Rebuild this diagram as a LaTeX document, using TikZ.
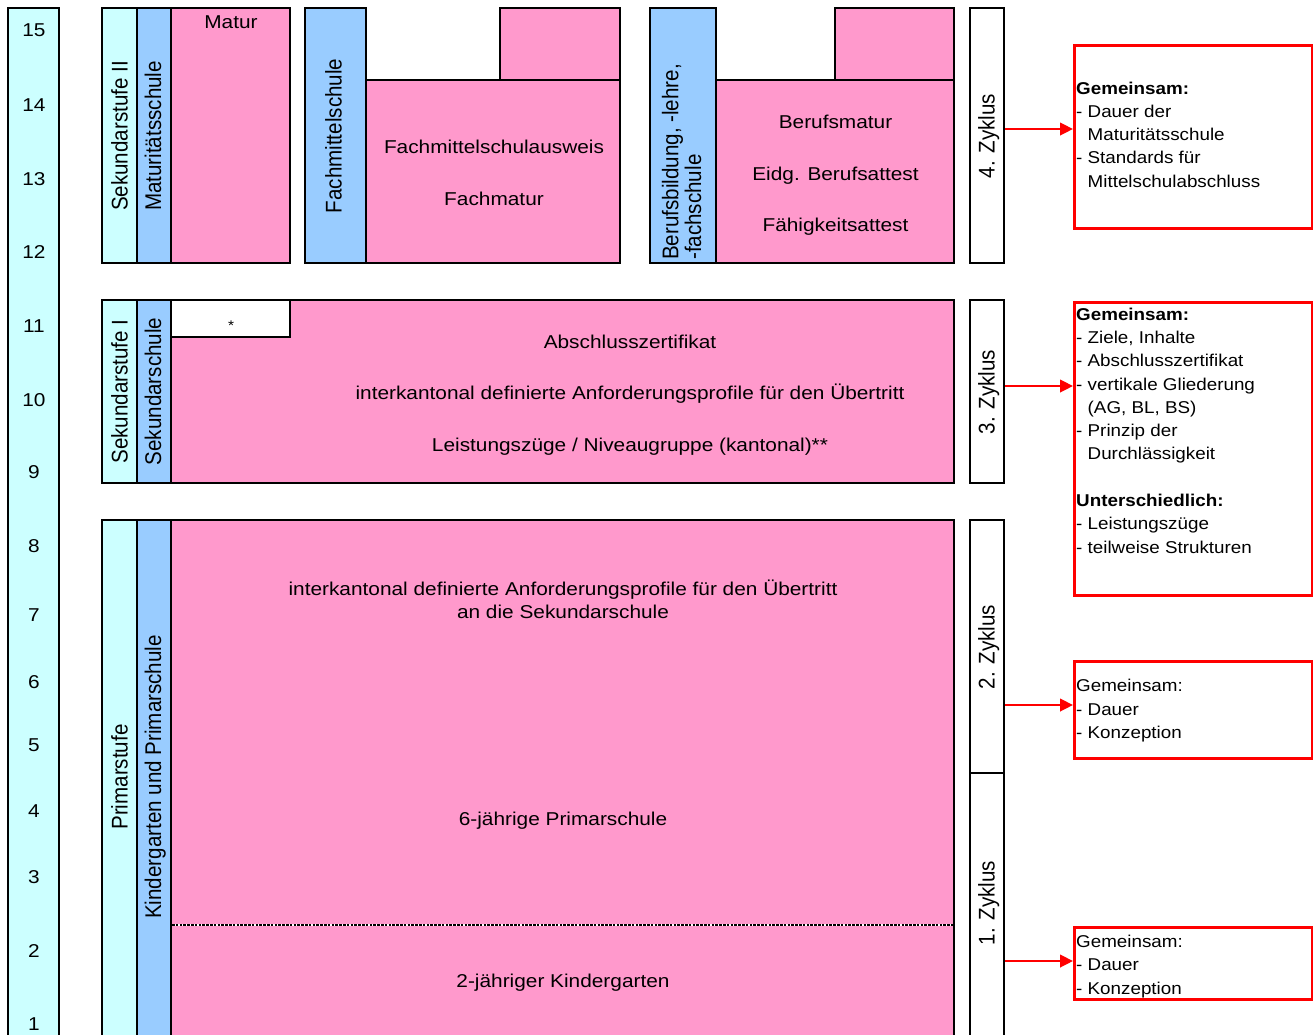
\documentclass[tikz,border=0pt]{standalone}
\usepackage{fontspec}
\setmainfont{Liberation Sans}
\newfontfamily\hfont{Liberation Sans}[FakeStretch=1.1]
\newfontfamily\hfontw{Liberation Sans}[FakeStretch=1.12]
\newfontfamily\vfont{Liberation Sans}[FakeStretch=0.907]
\usetikzlibrary{arrows.meta}
\definecolor{cyanL}{HTML}{CCFFFF}
\definecolor{blueL}{HTML}{99CCFF}
\definecolor{pinkL}{HTML}{FF99CC}
\tikzset{
  blk/.style={draw=black, line width=2pt},
  ht/.style={font=\hfontw\fontsize{18.6}{24}\selectfont, inner sep=0pt, anchor=base},
  htc/.style={font=\hfontw\fontsize{18.6}{23.4}\selectfont, inner sep=0pt, align=center, anchor=north},
  star/.style={font=\hfont\fontsize{14}{16}\selectfont, inner sep=0pt, anchor=base},
  vt/.style={font=\vfont\fontsize{22.7}{22.7}\selectfont, inner sep=0pt, rotate=90, anchor=base},
  rt/.style={font=\hfont\fontsize{17.1}{23.3}\selectfont, inner sep=0pt, align=left, anchor=north west},
  zyk/.style={draw=black, line width=2pt, fill=white, rectangle, inner sep=0pt},
  redbox/.style={draw=red, line width=3.2pt, rectangle, inner sep=0pt, anchor=north west},
  redarr/.style={draw=red, line width=2.5pt, -{Triangle[length=13pt,width=12.5pt]}}
}
\begin{document}
\begin{tikzpicture}[x=1pt, y=-1pt]
\useasboundingbox (0,0) rectangle (1313,1034);
\clip (0,0) rectangle (1313,1034);

% year column
\draw[blk, fill=cyanL] (8,8) rectangle (59,1050);
\foreach \n/\yy in {15/36.7, 14/111.7, 13/185, 12/258.3, 11/332.3, 10/406.7, 9/478.3, 8/552.7, 7/621.7, 6/688.3, 5/751.7, 4/817.7, 3/883.3, 2/957, 1/1030}
  \node[ht] (yr\n) at (34,\yy) {\n};

% ---- top block: Maturitaetsschule
\draw[blk, fill=cyanL] (102,8) rectangle (137,263);
\draw[blk, fill=blueL] (137,8) rectangle (171,263);
\draw[blk, fill=pinkL] (171,8) rectangle (290,263);
\node[vt] (sek2) at (127.7,136) {Sekundarstufe II};
\node[vt] (matschule) at (161,136) {Maturitätsschule};
\node[ht] (matur) at (231,28.3) {Matur};

% ---- Fachmittelschule
\draw[blk, fill=blueL] (305,8) rectangle (366,263);
\draw[blk, fill=pinkL] (366,80) rectangle (620,263);
\draw[blk, fill=pinkL] (500,8) rectangle (620,80);
\node[vt] (fms) at (341.7,136) {Fachmittelschule};
\node[ht] (fmsa) at (494,153) {Fachmittelschulausweis};
\node[ht] (fmat) at (494,205) {Fachmatur};

% ---- Berufsbildung
\draw[blk, fill=blueL] (650,8) rectangle (716,263);
\draw[blk, fill=pinkL] (716,80) rectangle (954,263);
\draw[blk, fill=pinkL] (835,8) rectangle (954,80);
\node[vt, align=left, anchor=north west] (beruf) at (661.7,260) {Berufsbildung, -lehre,\\-fachschule};
\node[ht] (bm) at (835.5,128.3) {Berufsmatur};
\node[ht] (eba) at (835.5,180) {Eidg. Berufsattest};
\node[ht] (fa) at (835.5,231) {Fähigkeitsattest};

% ---- middle block: Sekundarstufe I
\draw[blk, fill=cyanL] (102,300) rectangle (137,483);
\draw[blk, fill=blueL] (137,300) rectangle (171,483);
\draw[blk, fill=pinkL] (171,300) rectangle (954,483);
\draw[blk, fill=white] (171,300) rectangle (290,337);
\node[star] (st) at (231,330) {*};
\node[vt] (sek1) at (127.7,391.5) {Sekundarstufe I};
\node[vt] (sekschule) at (161,391.5) {Sekundarschule};
\node[ht] (abz) at (630,348) {Abschlusszertifikat};
\node[ht] (iap) at (630,399) {interkantonal definierte Anforderungsprofile für den Übertritt};
\node[ht] (lz) at (630,451) {Leistungszüge / Niveaugruppe (kantonal)**};

% ---- bottom block: Primarstufe
\draw[blk, fill=cyanL] (102,520) rectangle (137,1050);
\draw[blk, fill=blueL] (137,520) rectangle (171,1050);
\draw[blk, fill=pinkL] (171,520) rectangle (954,1050);
\draw[white, line width=2.6pt] (172,925) -- (953,925);
\draw[black, line width=2.6pt, dash pattern=on 2.6pt off 1.2pt] (172,925) -- (953,925);
\node[vt] (prim) at (127.7,777) {Primarstufe};
\node[vt] (kgps) at (161,777) {Kindergarten und Primarschule};
\node[htc] (iap2) at (563,579.7) {interkantonal definierte Anforderungsprofile für den Übertritt\\an die Sekundarschule};
\node[ht] (ps6) at (563,825) {6-jährige Primarschule};
\node[ht] (kg2) at (563,987) {2-jähriger Kindergarten};

% ---- Zyklen
\node[zyk, minimum width=34pt, minimum height=255pt] (z4) at (987,135.5) {};
\node[zyk, minimum width=34pt, minimum height=183pt] (z3) at (987,391.5) {};
\node[zyk, minimum width=34pt, minimum height=253pt] (z2) at (987,646.5) {};
\node[zyk, minimum width=34pt, minimum height=277pt] (z1) at (987,911.5) {};
\node[vt] (z4t) at (994.5,136) {4. Zyklus};
\node[vt] (z3t) at (994.5,392) {3. Zyklus};
\node[vt] (z2t) at (994.5,647) {2. Zyklus};
\node[vt] (z1t) at (994.5,903) {1. Zyklus};

% ---- red boxes
\node[redbox, minimum width=238pt, minimum height=183pt] (r1) at (1073,44) {};
\node[redbox, minimum width=238pt, minimum height=293pt] (r2) at (1073,301) {};
\node[redbox, minimum width=238pt, minimum height=97pt] (r3) at (1073,660) {};
\node[redbox, minimum width=238pt, minimum height=72pt] (r4) at (1073,926) {};

\node[rt] (r1t) at (1076,81.5) {\textbf{Gemeinsam:}\\- Dauer der\\\phantom{- }Maturitätsschule\\- Standards für\\\phantom{- }Mittelschulabschluss};
\node[rt] (r2t) at (1076,307.5) {\textbf{Gemeinsam:}\\- Ziele, Inhalte\\- Abschlusszertifikat\\- vertikale Gliederung\\\phantom{- }(AG, BL, BS)\\- Prinzip der\\\phantom{- }Durchlässigkeit\\[23.3pt]\textbf{Unterschiedlich:}\\- Leistungszüge\\- teilweise Strukturen};
\node[rt] (r3t) at (1076,679.2) {Gemeinsam:\\- Dauer\\- Konzeption};
\node[rt] (r4t) at (1076,934.8) {Gemeinsam:\\- Dauer\\- Konzeption};

% ---- arrows
\draw[redarr] (z4.east |- 0,129) -- (r1.west |- 0,129);
\draw[redarr] (z3.east |- 0,386) -- (r2.west |- 0,386);
\draw[redarr] (z2.east |- 0,705) -- (r3.west |- 0,705);
\draw[redarr] (z1.east |- 0,961) -- (r4.west |- 0,961);
\end{tikzpicture}
\end{document}
